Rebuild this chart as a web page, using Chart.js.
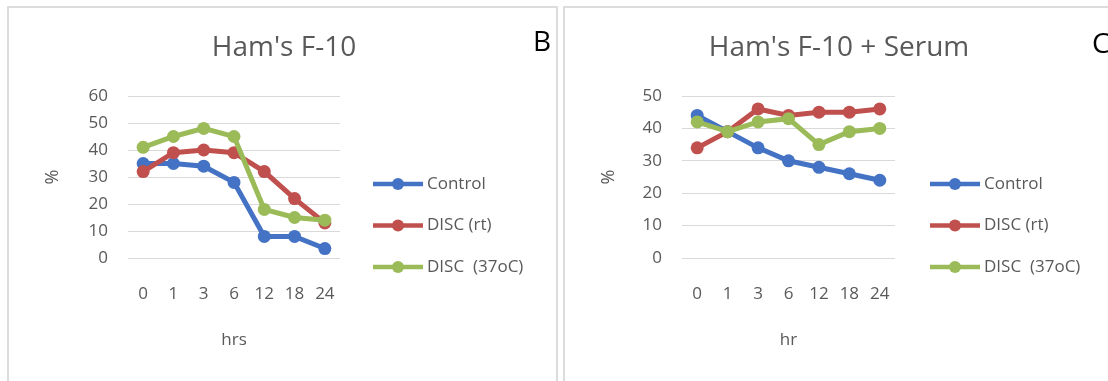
<!DOCTYPE html>
<html>
  <head>
    <meta charset="UTF-8" />
    <title>Ham's F-10</title>
    <script src="https://cdn.jsdelivr.net/npm/chart.js"></script>
    <style>
      body {
        margin: 0;
        background: white;
        width: 1108px;
        height: 381px;
        overflow: hidden;
        position: relative;
        font-family: "Open Sans", sans-serif;
      }
      .panel {
        position: absolute;
        border: 2px solid #dcdcdc;
        box-sizing: border-box;
      }
      canvas {
        position: absolute;
        top: 0;
      }
    </style>
  </head>
  <body>
    <div class="panel" style="left: 7px; top: 6px; width: 551px; height: 378px"></div>
    <div class="panel" style="left: 563px; top: 6px; width: 560px; height: 378px"></div>
    <canvas id="chartB" width="560" height="381" style="left: 0"></canvas>
    <canvas id="chartC" width="548" height="381" style="left: 560px"></canvas>

    <script>
      // x categories (hours)
      const hours = ["0", "1", "3", "6", "12", "18", "24"];
      const seriesNames = ["Control", "DISC (rt)", "DISC  (37oC)"];
      const seriesColors = ["#4472C4", "#C0504D", "#9BBB59"];

      // panel B: Ham's F-10
      const titleB = "Ham's F-10";
      const f10Control = [35, 35, 34, 28, 8, 8, 3.5];
      const f10DiscRt = [32, 39, 40, 39, 32, 22, 13];
      const f10Disc37 = [41, 45, 48, 45, 18, 15, 14];

      // panel C: Ham's F-10 + Serum
      const titleC = "Ham's F-10 + Serum";
      const serumControl = [44, 39, 34, 30, 28, 26, 24];
      const serumDiscRt = [34, 39, 46, 44, 45, 45, 46];
      const serumDisc37 = [42, 39, 42, 43, 35, 39, 40];

      const font = "'Open Sans', 'Noto Sans', sans-serif";
      const grey = "#595959";

      // title, panel letter and side legend
      const panelText = {
        id: "panelText",
        afterDraw(chart, args, opts) {
          const ctx = chart.ctx;
          ctx.save();
          ctx.font = "28px " + font;
          ctx.fillStyle = grey;
          ctx.textAlign = "center";
          ctx.textBaseline = "alphabetic";
          ctx.fillText(opts.title, opts.titleX, 56);
          ctx.fillStyle = "#000";
          ctx.textAlign = "left";
          ctx.fillText(opts.letter, opts.letterX, opts.letterY);

          ctx.font = "17px " + font;
          ctx.textBaseline = "middle";
          chart.data.datasets.forEach((ds, i) => {
            const y = opts.legendY + i * 41.5;
            const x = opts.legendX;
            ctx.strokeStyle = ds.borderColor;
            ctx.lineWidth = 4.5;
            ctx.beginPath();
            ctx.moveTo(x, y);
            ctx.lineTo(x + 50, y);
            ctx.stroke();
            ctx.fillStyle = ds.borderColor;
            ctx.beginPath();
            ctx.arc(x + 25, y, 6, 0, Math.PI * 2);
            ctx.fill();
            ctx.fillStyle = grey;
            ctx.fillText(ds.label, x + 54, y);
          });
          ctx.restore();
        },
      };

      function makeDatasets(values) {
        return values.map((data, i) => ({
          label: seriesNames[i],
          data: data,
          borderColor: seriesColors[i],
          backgroundColor: seriesColors[i],
          pointBackgroundColor: seriesColors[i],
          borderWidth: 5,
          pointRadius: 6.5,
          pointBorderWidth: 0,
          tension: 0,
          order: 2 - i,
        }));
      }

      function makeChart(id, values, cfg) {
        return new Chart(document.getElementById(id), {
          type: "line",
          data: { labels: hours, datasets: makeDatasets(values) },
          plugins: [panelText],
          options: {
            responsive: false,
            animation: false,
            devicePixelRatio: 1,
            layout: { padding: { left: 0, right: cfg.padRight, top: 96, bottom: 0 } },
            plugins: {
              legend: { display: false },
              title: { display: false },
              tooltip: { enabled: false },
              panelText: cfg.text,
            },
            scales: {
              x: {
                offset: true,
                grid: { display: false },
                border: { display: false },
                ticks: { color: grey, font: { family: font, size: 17 }, padding: 18 },
                title: {
                  display: true,
                  text: cfg.xTitle,
                  color: grey,
                  font: { family: font, size: 17 },
                  padding: { top: 0, bottom: 31 },
                },
                afterFit: (s) => {
                  s.height = 123;
                },
              },
              y: {
                min: 0,
                max: cfg.yMax,
                ticks: {
                  stepSize: 10,
                  color: grey,
                  font: { family: font, size: 17 },
                  padding: 20,
                },
                grid: { color: "#d9d9d9", lineWidth: 1, drawTicks: false },
                border: { display: false },
                title: {
                  display: true,
                  text: "%",
                  color: grey,
                  font: { family: font, size: 18 },
                  padding: { top: cfg.pctPad, bottom: 0 },
                },
                afterFit: (s) => {
                  s.width = cfg.yWidth;
                },
              },
            },
          },
        });
      }

      makeChart("chartB", [f10Control, f10DiscRt, f10Disc37], {
        padRight: 220,
        yWidth: 128,
        yMax: 60,
        pctPad: 42,
        xTitle: "hrs",
        text: { title: titleB, titleX: 284, letter: "B", letterX: 533, letterY: 51, legendX: 373, legendY: 184 },
      });

      makeChart("chartC", [serumControl, serumDiscRt, serumDisc37], {
        padRight: 213,
        yWidth: 122,
        yMax: 50,
        pctPad: 38,
        xTitle: "hr",
        text: { title: titleC, titleX: 279, letter: "C", letterX: 532, letterY: 53, legendX: 370, legendY: 184 },
      });
    </script>
  </body>
</html>
